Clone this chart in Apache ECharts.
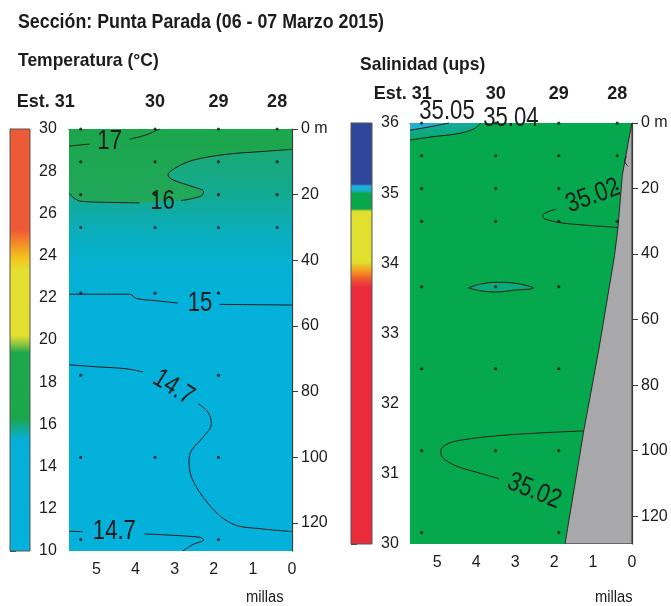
<!DOCTYPE html>
<html>
<head>
<meta charset="utf-8">
<script src="https://cdn.jsdelivr.net/npm/echarts@6/dist/echarts.min.js"></script>
<style>
  html, body { margin: 0; padding: 0; background: #fff; }
  #c { width: 671px; height: 606px; }
</style>
</head>
<body>
<div id="c"></div>
<script>
// ---- Section geometry -------------------------------------------------
const stationNames = ['31', '30', '29', '28'];
const stationMiles = [5.4, 3.5, 1.88, 0.38];
const depthTicks = [0, 20, 40, 60, 80, 100, 120];
const milesTicks = [0, 1, 2, 3, 4, 5];
const maxDepth = 128.5;
const maxMiles = 5.7;

// Sampled depths (m) per station, same order as stationNames
const tempSamples = [
  [0, 10, 20, 30, 50, 75, 100, 125],
  [0, 10, 20, 30, 50, 100],
  [0, 10, 20, 30, 50, 75, 100, 125],
  [0, 10, 20, 30]
];
const salSamples = [
  [0, 10, 20, 30, 50, 75, 100, 125],
  [0, 10, 20, 30, 50, 75, 100],
  [0, 10, 20, 30, 50, 75, 100, 125],
  [0, 10, 20, 30]
];

// ---- Temperature isotherms [miles, depth] -----------------------------
const t17a = [[5.7, 5.2], [5.45, 4.9], [5.18, 4.6]];
const t17b = [[4.15, 3.1], [3.73, 1.8], [3.38, 0]];
const t16a = [[5.7, 19.6], [5.55, 21.2], [5.39, 22.0], [4.84, 22.3], [3.9, 22.5]];
const t16b = [[2.83, 21.8], [2.32, 20.4], [2.26, 19.1], [2.53, 17.6], [3.04, 15.5], [3.17, 14.0],
              [3.0, 12.0], [2.53, 9.5], [1.67, 7.7], [0.82, 6.9], [0, 6.2]];
const t15a = [[5.7, 50.3], [4.15, 50.3], [3.98, 51.6], [3.47, 52.3], [2.92, 53.0]];
const t15b = [[1.85, 53.4], [0, 53.6]];
const t147a = [[5.7, 71.8], [5.01, 72.4], [4.24, 73.0], [3.81, 74.0]];
const t147b = [[2.4, 83.6], [2.15, 86.2], [2.06, 89.7], [2.27, 93.8], [2.57, 97.9], [2.63, 100.9],
               [2.57, 106], [2.27, 112.1], [1.85, 117.7], [1.42, 120.7], [0.82, 121.7], [0, 122.6]];
const t147c = [[5.7, 122.5], [5.35, 122.6]];
const t147d = [[3.77, 123.3], [2.36, 124.3], [2.26, 125.1], [2.53, 126.5], [2.79, 128.5]];

const tempLabels = [
  { text: '17', miles: 4.66, depth: 3.9 },
  { text: '16', miles: 3.31, depth: 22.1 },
  { text: '15', miles: 2.35, depth: 53.1 },
  { text: '14.7', miles: 3.03, depth: 78.7 },
  { text: '14.7', miles: 4.54, depth: 122.7 }
];

// ---- Salinity isohalines [miles, depth] -------------------------------
const s3505 = [[5.7, 2.2], [5.21, 1.2], [4.7, 0]];
const s3504 = [[5.7, 5.2], [5.13, 4.2], [4.44, 3.2], [4.05, 1.7], [3.88, 0]];
const s3502a = [[0.36, 31.9], [1.18, 31.2], [1.86, 30.4], [2.25, 29.2], [2.29, 28.2], [2.16, 27.1], [1.95, 26.3]];
const s3502c = [[0.14, 10.2], [0.19, 11.6], [0.1, 13.2]];
const s3502lens = [[4.2, 50.3], [3.9, 49.2], [3.5, 48.6], [3.0, 48.9], [2.53, 50.4],
                   [3.0, 51.0], [3.5, 51.6], [3.9, 51.2], [4.2, 50.3]];
const s3502b = [[1.24, 94], [1.86, 94.3], [3.41, 95.4], [4.44, 96.9], [4.78, 98.2], [4.91, 100],
                [4.87, 102], [4.53, 104.6], [3.93, 106.8], [3.41, 108.6]];

const salLabels = [
  { text: '35.05', miles: 4.75, depth: -3.4 },
  { text: '35.04', miles: 3.11, depth: -1.4 },
  { text: '35.02', miles: 1.0, depth: 22.3 },
  { text: '35.02', miles: 2.51, depth: 112.4 }
];

// Sea floor profile under the salinity section [miles, depth]
const seaFloor = [[0, 0], [0.06, 3.5], [0.25, 16], [0.36, 32], [0.45, 40.5], [0.85, 69],
                  [1.13, 87], [1.24, 94], [1.56, 117], [1.72, 128.5]];

// ---- Colour scales [value, colour] ------------------------------------
const tempScale = [[30, '#ee5a35'], [25.2, '#ee5a35'], [24.6, '#f08a2a'], [23.9, '#f6c21d'],
                   [23.3, '#e5df31'], [20.2, '#e2df31'], [19.8, '#8cc43f'], [19.4, '#1ea84b'],
                   [16.3, '#1ba74c'], [15.8, '#12ab92'], [15.3, '#05b0d8'], [10, '#03b1dc']];
const salScale = [[36, '#2f479a'], [35.13, '#2f479a'], [35.1, '#1ab3e2'], [35.03, '#15b0c4'],
                  [35.0, '#08a74c'], [34.78, '#08a74c'], [34.74, '#e2e02e'], [34.02, '#e2e02e'],
                  [33.9, '#f4a01e'], [33.75, '#ef4a34'], [33.65, '#ea2b3b'], [30, '#ea2b3b']];

// Field shading by depth [depth, colour]
const tempWarmShade = [[0, '#1aa64b'], [22, '#21a85a']];
const tempMidShade = [[0, '#1ba86c'], [10, '#18a97c'], [20, '#13aa92'], [30, '#0badb8'], [40, '#05b0d0'], [53, '#03b1da']];
const tempColdShade = '#03b1db';
const salBaseShade = '#06a84d';
const salTopShade = [[0, '#14ab9e'], [5.5, '#0aa866']];
const salCornerShade = '#22b0cc';
const seaFloorShade = '#a8a8aa';

// ---- Helpers ------------------------------------------------------------
const FONT = "'Liberation Sans', Arial, sans-serif";
const INK = '#1c1c1c';

function depthGradient(api, stops) {
  const y0 = api.coord([0, 0])[1];
  const y1 = api.coord([0, maxDepth])[1];
  return new echarts.graphic.LinearGradient(0, y0, 0, y1,
    stops.map(s => ({ offset: s[0] / maxDepth, color: s[1] })), true);
}

function areaSeries(axis, pts, fillFn, z, stroke) {
  return {
    type: 'custom', xAxisIndex: axis.x, yAxisIndex: axis.y, silent: true, z: z,
    data: [[0, 0]], clip: true,
    renderItem: (params, api) => ({
      type: 'polygon',
      shape: { points: pts.map(p => api.coord(p)) },
      style: { fill: typeof fillFn === 'function' ? fillFn(api) : fillFn,
               stroke: stroke || null, lineWidth: stroke ? 1 : 0 }
    })
  };
}

function lineSeries(axis, pts) {
  return {
    type: 'line', xAxisIndex: axis.x, yAxisIndex: axis.y, data: pts, z: 5,
    symbol: 'none', smooth: 0.35, silent: true, clip: false,
    lineStyle: { color: INK, width: 1 }
  };
}

function dotSeries(axis, samples) {
  const data = [];
  samples.forEach((depths, i) => depths.forEach(d => data.push([stationMiles[i], d])));
  return {
    type: 'scatter', xAxisIndex: axis.x, yAxisIndex: axis.y, data, z: 6, clip: false,
    symbol: 'circle', symbolSize: 3.2, itemStyle: { color: '#111' }, silent: true
  };
}

// Contour values written along the isolines (condensed lettering)
function labelSeries(axis, labels, angles, size) {
  return {
    type: 'custom', xAxisIndex: axis.x, yAxisIndex: axis.y, z: 7, clip: false, silent: true,
    data: labels.map(l => [l.miles, l.depth]),
    renderItem: (params, api) => {
      const i = params.dataIndex;
      const p = api.coord([api.value(0), api.value(1)]);
      return {
        type: 'text', x: p[0], y: p[1], rotation: angles[i] * Math.PI / 180, scaleX: 0.82,
        style: { text: labels[i].text, fontSize: size, fontFamily: FONT, fill: INK,
                 align: 'center', verticalAlign: 'middle' }
      };
    }
  };
}

function colorBarSeries(axis, scale) {
  const vmax = scale[0][0], vmin = scale[scale.length - 1][0];
  return {
    type: 'custom', xAxisIndex: axis.x, yAxisIndex: axis.y, silent: true, z: 2,
    data: [[0, 0]],
    renderItem: (params, api) => {
      const a = api.coord([0, vmax]), b = api.coord([1, vmin]);
      return {
        type: 'rect',
        shape: { x: a[0], y: a[1], width: b[0] - a[0], height: b[1] - a[1] },
        style: {
          fill: new echarts.graphic.LinearGradient(0, a[1], 0, b[1],
            scale.map(s => ({ offset: (vmax - s[0]) / (vmax - vmin), color: s[1] })), true),
          stroke: '#555', lineWidth: 1
        }
      };
    }
  };
}

const axisText = { fontSize: 16, fontFamily: FONT, color: INK };

function milesAxis(grid) {
  return {
    type: 'value', gridIndex: grid, min: 0, max: maxMiles, inverse: true, position: 'bottom',
    splitLine: { show: false },
    axisLine: { show: true, lineStyle: { color: '#3a3a3a', width: 1.2 } },
    axisTick: { show: true, length: 5, customValues: milesTicks, lineStyle: { color: '#3a3a3a' } },
    axisLabel: Object.assign({ margin: 11, customValues: milesTicks }, axisText)
  };
}
function stationAxis(grid, margin, padWidth) {
  return {
    type: 'value', gridIndex: grid, min: 0, max: maxMiles, inverse: true, position: 'top',
    splitLine: { show: false }, axisLine: { show: false }, axisTick: { show: false },
    axisLabel: {
      customValues: stationMiles, margin: margin,
      fontSize: 18, fontWeight: 'bold', fontFamily: FONT, color: INK,
      formatter: v => {
        const i = stationMiles.indexOf(v);
        return i === 0 ? '{e|Est.} ' + stationNames[i] + '{p|}' : stationNames[i];
      },
      rich: {
        e: { fontSize: 18, fontWeight: 'bold', fontFamily: FONT, color: INK },
        p: { width: padWidth }
      }
    }
  };
}
function depthAxis(grid) {
  return {
    type: 'value', gridIndex: grid, min: 0, max: maxDepth, inverse: true, position: 'right',
    splitLine: { show: false },
    axisLine: { show: true, lineStyle: { color: '#3a3a3a', width: 1.2 } },
    axisTick: { show: true, length: 6, customValues: depthTicks, lineStyle: { color: '#3a3a3a' } },
    axisLabel: Object.assign({ margin: 9, customValues: depthTicks,
      formatter: v => (v === 0 ? '0 m' : String(v)) }, axisText)
  };
}
function barAxis(grid, min, max, step) {
  return {
    type: 'value', gridIndex: grid, min, max, interval: step, position: 'right',
    splitLine: { show: false },
    axisLine: { show: true, lineStyle: { color: '#555', width: 1 } },
    axisTick: { show: true, length: 6, lineStyle: { color: '#444' } },
    axisLabel: Object.assign({ margin: 9 }, axisText)
  };
}
const hiddenX = g => ({ type: 'value', gridIndex: g, min: 0, max: 1, show: false });

const A = {
  tBar: { x: 0, y: 0 }, temp: { x: 1, y: 1 },
  sBar: { x: 3, y: 2 }, sal: { x: 4, y: 3 }
};

const plotRect = [[maxMiles, 0], [0, 0], [0, maxDepth], [maxMiles, maxDepth]];
const t16 = t16a.concat(t16b);
const t15 = t15a.concat(t15b);
const warmArea = [[maxMiles, 0], [0, 0]].concat(t16.slice().reverse());
const midArea = [[maxMiles, 0], [0, 0]].concat(t15.slice().reverse());
const salTopArea = [[maxMiles, 0]].concat(s3504);
const salCornerArea = [[maxMiles, 0]].concat(s3505);
const floorArea = seaFloor.concat([[0, maxDepth]]);

const headText = (text, x, y, size, bold, squeeze) => ({
  type: 'text', x, y, scaleX: squeeze, silent: true,
  style: { text, fontSize: size, fontWeight: bold ? 'bold' : 'normal', fontFamily: FONT,
           fill: INK, verticalAlign: 'top' }
});

const option = {
  animation: false,
  backgroundColor: '#ffffff',
  graphic: [
    headText('Sección: Punta Parada (06 - 07 Marzo 2015)', 18, 12, 20, true, 0.89),
    headText('Temperatura (°C)', 18, 51, 19, true, 0.92),
    headText('Salinidad (ups)', 360, 55, 19, true, 0.92),
    headText('millas', 246, 590, 16, false, 0.92),
    headText('millas', 595, 590, 16, false, 0.92)
  ],
  grid: [
    { left: 10, top: 129, width: 20, height: 422 },
    { left: 69, top: 129, width: 223, height: 422 },
    { left: 351, top: 123, width: 21, height: 421 },
    { left: 410, top: 123, width: 222, height: 421 }
  ],
  xAxis: [hiddenX(0), milesAxis(1), stationAxis(1, 18, 70), hiddenX(2), milesAxis(3), stationAxis(3, 20, 38)],
  yAxis: [barAxis(0, 10, 30, 2), depthAxis(1), barAxis(2, 30, 36, 1), depthAxis(3)],
  series: [
    colorBarSeries(A.tBar, tempScale),
    colorBarSeries(A.sBar, salScale),

    // temperature field
    areaSeries(A.temp, plotRect, tempColdShade, 1),
    areaSeries(A.temp, midArea, api => depthGradient(api, tempMidShade), 2),
    areaSeries(A.temp, warmArea, api => depthGradient(api, tempWarmShade), 3),
    lineSeries(A.temp, t17a), lineSeries(A.temp, t17b),
    lineSeries(A.temp, t16a), lineSeries(A.temp, t16b),
    lineSeries(A.temp, t15a), lineSeries(A.temp, t15b),
    lineSeries(A.temp, t147a), lineSeries(A.temp, t147b),
    lineSeries(A.temp, t147c), lineSeries(A.temp, t147d),
    dotSeries(A.temp, tempSamples),
    labelSeries(A.temp, tempLabels, [0, 0, 0, -32, 0], 27),

    // salinity field
    areaSeries(A.sal, plotRect, salBaseShade, 1),
    areaSeries(A.sal, salTopArea, api => depthGradient(api, salTopShade), 2),
    areaSeries(A.sal, salCornerArea, salCornerShade, 3),
    areaSeries(A.sal, s3502lens, '#0caa7a', 2),
    lineSeries(A.sal, s3505), lineSeries(A.sal, s3504),
    lineSeries(A.sal, s3502a), lineSeries(A.sal, s3502c),
    lineSeries(A.sal, s3502lens), lineSeries(A.sal, s3502b),
    areaSeries(A.sal, floorArea, seaFloorShade, 4, '#2a2a2a'),
    dotSeries(A.sal, salSamples),
    labelSeries(A.sal, salLabels, [0, 0, 20, -22], 27)
  ]
};

const chart = echarts.init(document.getElementById('c'), null, { renderer: 'canvas' });
chart.setOption(option);
</script>
</body>
</html>
